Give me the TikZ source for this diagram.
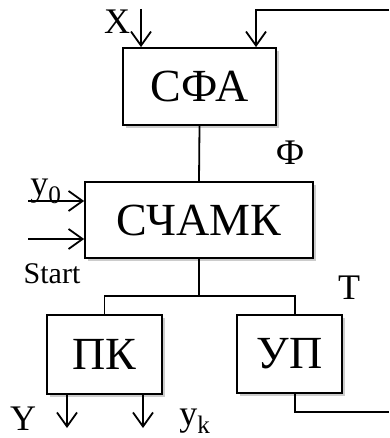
\documentclass[tikz,border=0pt]{standalone}
\usepackage{fontspec}
\setmainfont{Liberation Serif}
\usetikzlibrary{arrows.meta,shadows}
\begin{document}
\begin{tikzpicture}[x=1pt,y=-1pt,
  blk/.style={draw=black,line width=1.8pt,fill=white,inner sep=0pt,
    font=\fontsize{46}{46}\selectfont,
    drop shadow={shadow xshift=3pt,shadow yshift=-3pt,fill=gray!40,opacity=1}},
  lbl/.style={inner sep=0pt,font=\fontsize{36}{36}\selectfont},
  wire/.style={line width=1.8pt},
  arr/.style={line width=1.8pt,-{Straight Barb[length=14pt,width=20pt,line width=1.8pt]}}]
\useasboundingbox (0,0) rectangle (389,438);
\node[blk,minimum width=153pt,minimum height=77pt] (sfa) at (199.5,86.5) {СФА};
\node[blk,minimum width=228pt,minimum height=76pt] (sch) at (199,220) {СЧАМК};
\node[blk,minimum width=115pt,minimum height=79pt] (pk) at (104.5,354.5) {ПК};
\node[blk,minimum width=105pt,minimum height=78pt] (up) at (289.5,354) {УП};
% labels
\node[lbl] (lx) at (117,22) {X};
\node[lbl] (lphi) at (290,153) {Ф};
\node[lbl,anchor=base] (ly0) at (46,195) {y\textsubscript{0}};
\node[lbl,font=\fontsize{30}{30}\selectfont] (lstart) at (52,274) {Start};
\node[lbl] (lt) at (349,288) {T};
\node[lbl] (ly) at (23,419) {Y};
\node[lbl,anchor=base] (lyk) at (195,425) {y\textsubscript{k}};
% input arrows to SFA
\coordinate (xs) at (141,9);
\draw[arr] (xs) -- (sfa.north -| xs);
\coordinate (fbtop) at (389,10);
\coordinate (fbturn) at (256,10);
\draw[arr] (fbtop) -- (fbturn) -- (sfa.north -| fbturn);
% SFA to SCHAMK
\draw[wire] (sfa.south) -- (sch.north);
% inputs to SCHAMK
\coordinate (y0s) at (28,201);
\coordinate (sts) at (28,239);
\draw[arr] (y0s) -- (sch.west |- y0s);
\draw[arr] (sts) -- (sch.west |- sts);
% branch
\coordinate (br) at (199,296);
\coordinate (brl) at (104.5,296);
\coordinate (brr) at (295,296);
\draw[wire] (sch.south) -- (br);
\draw[wire] (pk.north) -- (brl) -- (brr) -- (up.north -| brr);
% outputs of PK
\coordinate (o1) at (67,428);
\coordinate (o2) at (143,428);
\draw[arr] (pk.south -| o1) -- (o1);
\draw[arr] (pk.south -| o2) -- (o2);
% UP feedback out
\coordinate (ub) at (295,412);
\coordinate (ube) at (389,412);
\draw[wire] (up.south -| ub) -- (ub) -- (ube);
\end{tikzpicture}
\end{document}
